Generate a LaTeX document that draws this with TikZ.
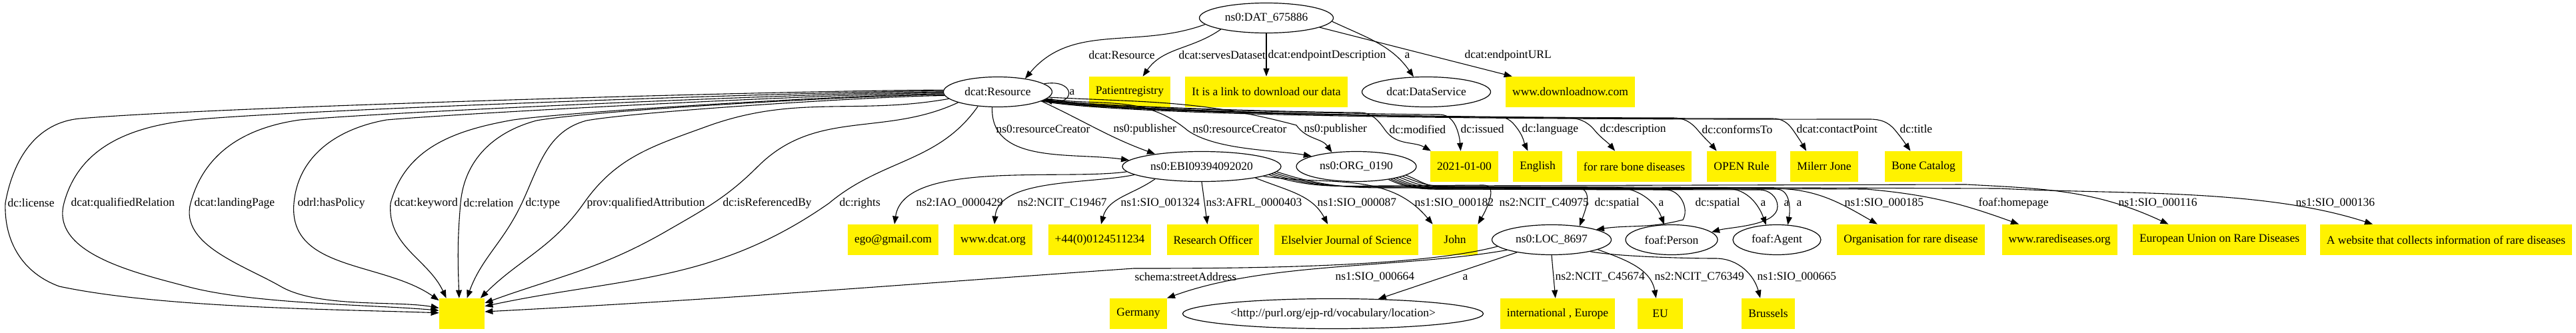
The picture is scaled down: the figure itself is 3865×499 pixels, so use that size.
\documentclass[tikz,border=0pt]{standalone}
\usepackage{fontspec}
\setmainfont{Liberation Serif}
\usetikzlibrary{shapes.geometric, arrows.meta}

\begin{document}
\begin{tikzpicture}[x=0.5pt, y=0.5pt, font=\fontsize{8.75}{10.5}\selectfont, ent/.style={
        ellipse,
        draw=black,
        line width=0.6pt,
        minimum height=22.5pt,
        inner sep=0pt
    }, lit/.style={
        rectangle,
        fill=yellow,
        minimum height=23pt,
        minimum width=34pt,
        inner xsep=5pt
    }, lbl/.style={
        anchor=west,
        inner sep=0pt
    }, arrow/.style={
        line width=0.55pt, -{Triangle[length=6pt, width=4.5pt]}
    }]
    \useasboundingbox (0,0) rectangle (3865,-499);

    \node (dat) [ent, minimum width=100.5pt] at (1900,-27) {ns0:DAT\_675886};
    \node (res) [ent, minimum width=81.5pt] at (1497,-138) {dcat:Resource};
    \node (patient) [lit] at (1695,-138) {Patientregistry};
    \node (link) [lit] at (1900,-138) {It is a link to download our data};
    \node (dserv) [ent, minimum width=96.5pt] at (2140,-138) {dcat:DataService};
    \node (dlnow) [lit] at (2356,-138) {www.downloadnow.com};

    \node (ebi) [ent, minimum width=119pt] at (1803,-250) {ns0:EBI09394092020};
    \node (org) [ent, minimum width=90pt] at (2035,-250) {ns0:ORG\_0190};
    \node (date) [lit] at (2197,-250) {2021-01-00};
    \node (english) [lit] at (2307,-250) {English};
    \node (bonedis) [lit] at (2452,-250) {for rare bone diseases};
    \node (rule) [lit] at (2613,-250) {OPEN Rule};
    \node (contact) [lit] at (2737,-250) {Milerr Jone};
    \node (title) [lit] at (2886,-250) {Bone Catalog};

    \node (mail) [lit] at (1340,-360) {ego@gmail.com};
    \node (web) [lit] at (1490,-360) {www.dcat.org};
    \node (phone) [lit] at (1650,-360) {+44(0)0124511234};
    \node (role) [lit] at (1820,-360) {Research Officer};
    \node (journal) [lit] at (2020,-360) {Elselvier Journal of Science};
    \node (john) [lit] at (2183,-360) {John};
    \node (loc) [ent, minimum width=89.5pt] at (2328,-360) {ns0:LOC\_8697};
    \node (person) [ent, minimum width=69pt] at (2508,-360) {foaf:Person};
    \node (agent) [ent, minimum width=66pt] at (2666,-360) {foaf:Agent};
    \node (orgname) [lit] at (2867,-360) {Organisation for rare disease};
    \node (homepage) [lit] at (3090,-360) {www.rarediseases.org};
    \node (eurd) [lit] at (3330,-360) {European Union on Rare Diseases};
    \node (about) [lit] at (3670,-360) {A website that collects information of rare diseases};

    \node (blank) [lit] at (693,-471) {};
    \node (germany) [lit] at (1708,-471) {Germany};
    \node (vocab) [ent, minimum width=225.5pt] at (2000,-471) {<http://purl.org/ejp-rd/vocabulary/location>};
    \node (intl) [lit] at (2337,-471) {international , Europe};
    \node (eu) [lit] at (2491,-471) {EU};
    \node (brussels) [lit] at (2653,-471) {Brussels};

    \draw [arrow] (dat.186) to[out=200,in=50] (res.26) node[lbl] at (1633,-83) {dcat:Resource};
    \draw [arrow] (dat.194) to[out=215,in=55] (patient.50) node[lbl] at (1768,-83) {dcat:servesDataset};
    \draw [arrow] (dat.south) -- (link.north) node[lbl] at (1902,-83) {dcat:endpointDescription};
    \draw [arrow] (dat.-3) to[out=-25,in=125] (dserv.130) node[lbl] at (2107,-83) {a};
    \draw [arrow] (dat.-10) -- (dlnow.165) node[lbl] at (2197,-83) {dcat:endpointURL};

    \draw [arrow] (res.10) .. controls (1614,-118) and (1614,-158) .. (res.-10) node[lbl] at (1604,-138) {a};
    \draw [arrow] (res.250) to[out=268,in=172] (ebi.175) node[lbl] at (1494,-194) {ns0:resourceCreator};
    \draw [arrow] (res.-12) to[out=-25,in=160] (ebi.165) node[lbl] at (1670,-194) {ns0:publisher};
    \draw [arrow] (res.-8) to[out=-8,in=140] (1782,-196) to[out=-35,in=170,looseness=0.7] (org.167) node[lbl] at (1789,-194) {ns0:resourceCreator};
    \draw [arrow] (res.-6) to[out=-3,in=165] (1945,-188) to[out=-55,in=125] (org.150) node[lbl] at (1956,-194) {ns0:publisher};
    \draw [arrow] (res.-9) to[out=-10,in=180,looseness=0.35] (2040,-169) to[out=0,in=125] (2078,-195) to[out=-55,in=150] (date.155) node[lbl] at (2084,-194) {dc:modified};
    \draw [arrow] (res.-9) to[out=-10,in=180,looseness=0.35] (2160,-172) to[out=0,in=110] (2186,-194) to[out=-70,in=95] (date.103) node[lbl] at (2191,-194) {dc:issued};
    \draw [arrow] (res.-10) to[out=-10,in=180,looseness=0.35] (2250,-176) to[out=0,in=125] (2278,-195) to[out=-55,in=115] (english.122) node[lbl] at (2283,-194) {dc:language};
    \draw [arrow] (res.-10) to[out=-10,in=180,looseness=0.35] (2350,-177) to[out=0,in=130] (2392,-195) to[out=-50,in=130] (bonedis.141) node[lbl] at (2400,-194) {dc:description};
    \draw [arrow] (res.-11) to[out=-10,in=180,looseness=0.35] (2510,-177) to[out=0,in=130] (2547,-195) to[out=-50,in=130] (rule.148) node[lbl] at (2553,-194) {dc:conformsTo};
    \draw [arrow] (res.-11) to[out=-10,in=180,looseness=0.35] (2660,-178) to[out=0,in=125] (2690,-195) to[out=-55,in=120] (contact.139) node[lbl] at (2695,-194) {dcat:contactPoint};
    \draw [arrow] (res.-12) to[out=-10,in=180,looseness=0.35] (2805,-179) to[out=0,in=130] (2843,-195) to[out=-50,in=125] (title.130) node[lbl] at (2850,-194) {dc:title};

    \draw [arrow] (res.178) to[out=180,in=5,looseness=0.4] (120,-178) to[out=185,in=80] (8,-305) to[out=268,in=160] (89,-430) to[out=-12,in=178,looseness=0.7] (blank.178) node[lbl] at (11,-305) {dc:license};
    \draw [arrow] (res.179) to[out=180,in=5,looseness=0.4] (300,-179) to[out=185,in=75] (96,-305) to[out=255,in=165,looseness=0.9] (280,-430) to[out=-15,in=175,looseness=0.7] (blank.172) node[lbl] at (106,-305) {dcat:qualifiedRelation};
    \draw [arrow] (res.180) to[out=180,in=5,looseness=0.4] (450,-180) to[out=188,in=75] (286,-305) to[out=255,in=150,looseness=0.9] (421,-430) to[out=-30,in=170,looseness=0.7] (blank.166) node[lbl] at (291,-305) {dcat:landingPage};
    \draw [arrow] (res.181) to[out=180,in=5,looseness=0.4] (580,-180) to[out=190,in=85] (441,-305) to[out=265,in=145] (blank.150) node[lbl] at (446,-305) {odrl:hasPolicy};
    \draw [arrow] (res.182) to[out=180,in=8,looseness=0.4] (770,-180) to[out=190,in=75] (586,-305) to[out=265,in=115] (blank.135) node[lbl] at (591,-305) {dcat:keyword};
    \draw [arrow] (res.183) to[out=180,in=10,looseness=0.4] (805,-181) to[out=195,in=85] (691,-305) to[out=265,in=92] (blank.100) node[lbl] at (695,-305) {dc:relation};
    \draw [arrow] (res.184) to[out=180,in=10,looseness=0.4] (880,-181) to[out=195,in=65] (783,-305) to[out=245,in=70] (blank.72) node[lbl] at (788,-305) {dc:type};
    \draw [arrow] (res.188) to[out=190,in=20] (1060,-190) to[out=200,in=55] (876,-305) to[out=235,in=45] (blank.40) node[lbl] at (880,-305) {prov:qualifiedAttribution};
    \draw [arrow] (res.195) to[out=205,in=45] (1137,-250) to[out=225,in=30] (1000,-347) to[out=210,in=20] (blank.25) node[lbl] at (1084,-305) {dc:isReferencedBy};
    \draw [arrow] (res.216) to[out=235,in=40] (1244,-305) to[out=215,in=12] (blank.18) node[lbl] at (1259,-305) {dc:rights};

    \draw [arrow] (ebi.184) to[out=188,in=82,looseness=0.7] (mail.85) node[lbl] at (1374,-305) {ns2:IAO\_0000429};
    \draw [arrow] (ebi.187) to[out=192,in=85,looseness=0.8] (web.85) node[lbl] at (1526,-305) {ns2:NCIT\_C19467};
    \draw [arrow] (ebi.195) to[out=215,in=75] (phone.85) node[lbl] at (1681,-305) {ns1:SIO\_001324};
    \draw [arrow] (ebi.south) -- (role.110) node[lbl] at (1809,-305) {ns3:AFRL\_0000403};
    \draw [arrow] (ebi.-12) to[out=-22,in=118] (journal.140) node[lbl] at (1976,-305) {ns1:SIO\_000087};
    \draw [arrow] (ebi.-9) to[out=-8,in=130] (john.145) node[lbl] at (2122,-305) {ns1:SIO\_000182};
    \draw [arrow] (ebi.-7) to[out=-18,in=180] (2080,-279) -- (2226,-278) to[out=0,in=60] (john.north east) node[lbl] at (2249,-305) {ns2:NCIT\_C40975};
    \draw [arrow] (ebi.-6) to[out=-18,in=180] (2080,-280) -- (2362,-281) to[out=0,in=70,looseness=1.3] (loc.26) node[lbl] at (2392,-305) {dc:spatial};
    \draw [arrow] (ebi.-5) to[out=-18,in=180] (2080,-281) -- (2420,-281) to[out=0,in=110] (person.116) node[lbl] at (2488,-305) {a};
    \draw [arrow] (ebi.-4) to[out=-18,in=180] (2080,-282) -- (2590,-283) to[out=0,in=110] (agent.126) node[lbl] at (2641,-305) {a};

    \draw [arrow] (org.-22) to[out=-25,in=180] (2160,-284) -- (2500,-285) to[out=0,in=60] (2525,-330) to[out=195,in=8] (loc.13) node[lbl] at (2543,-305) {dc:spatial};
    \draw [arrow] (org.-20) to[out=-25,in=180] (2160,-284) -- (2640,-285) to[out=0,in=90] (2667,-310) to[out=270,in=15,looseness=0.7] (person.11) node[lbl] at (2676,-305) {a};
    \draw [arrow] (org.-18) to[out=-25,in=180] (2160,-283) -- (2665,-284) to[out=0,in=80] (agent.54) node[lbl] at (2695,-305) {a};
    \draw [arrow] (org.-16) to[out=-25,in=180] (2160,-282) -- (2660,-283) to[out=0,in=150] (orgname.155) node[lbl] at (2767,-305) {ns1:SIO\_000185};
    \draw [arrow] (org.-14) to[out=-22,in=180] (2160,-281) -- (2800,-284) to[out=-5,in=160] (homepage.159) node[lbl] at (2968,-305) {foaf:homepage};
    \draw [arrow] (org.-12) to[out=-20,in=180] (2160,-279) -- (2950,-277) to[out=-3,in=155] (eurd.163) node[lbl] at (3178,-305) {ns1:SIO\_000116};
    \draw [arrow] (org.-10) to[out=-20,in=180] (2160,-280) -- (3000,-283) to[out=-3,in=162,looseness=0.8] (about.168) node[lbl] at (3444,-305) {ns1:SIO\_000136};

    \draw [arrow] (loc.187) to[out=195,in=0,looseness=0.6] (1701,-403) to[out=184,in=3] (blank.5) node[lbl] at (1702,-416) {schema:streetAddress};
    \draw [arrow] (loc.193) to[out=190,in=20,looseness=0.8] (germany.north east) node[lbl] at (2003,-416) {ns1:SIO\_000664};
    \draw [arrow] (loc.200) -- (vocab.18) node[lbl] at (2194,-416) {a};
    \draw [arrow] (loc.south) -- (intl.98) node[lbl] at (2333,-416) {ns2:NCIT\_C45674};
    \draw [arrow] (loc.-12) to[out=-20,in=100] (eu.105) node[lbl] at (2482,-416) {ns2:NCIT\_C76349};
    \draw [arrow] (loc.-17) to[out=-10,in=180,looseness=0.6] (2574,-388) to[out=0,in=105] (brussels.117) node[lbl] at (2636,-416) {ns1:SIO\_000665};

\end{tikzpicture}
\end{document}
